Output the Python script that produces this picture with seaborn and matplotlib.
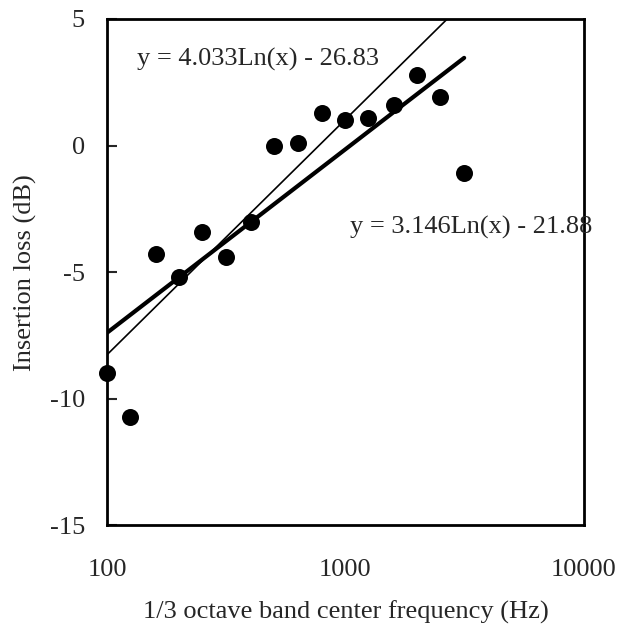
import numpy as np
import pandas as pd
import matplotlib
matplotlib.use("Agg")
import matplotlib.pyplot as plt
from matplotlib.ticker import FixedLocator, FixedFormatter, NullLocator
import seaborn as sns

# ====================
# DATOS
# ====================
frecuencias = [100, 125, 160, 200, 250, 315, 400, 500, 630, 800,
               1000, 1250, 1600, 2000, 2500, 3150]
perdida = [-9.0, -10.7, -4.3, -5.2, -3.4, -4.4, -3.0, 0.0, 0.1, 1.3,
           1.0, 1.1, 1.6, 2.8, 1.9, -1.1]

# ajustes logaritmicos (y = a*Ln(x) + b)
pendientes = [4.033, 3.146]
intercepts = [-26.83, -21.88]
etiquetas = ["y = 4.033Ln(x) - 26.83", "y = 3.146Ln(x) - 21.88"]

xticks = [100, 1000, 10000]
yticks = [-15, -10, -5, 0, 5]

df = pd.DataFrame({"f": frecuencias, "IL": perdida})

# ====================
# ESTILO
# ====================
sns.set_style("white")
plt.rcParams["font.family"] = ["Liberation Serif", "DejaVu Serif"]
FS = 19

fig = plt.figure(figsize=(6.19, 6.30), dpi=100)
ax = fig.add_axes([0.173, 0.166, 0.770, 0.804])

# lineas de tendencia
f_lin = np.geomspace(min(frecuencias), max(frecuencias), 200)
lineas = pd.DataFrame({
    "f": np.concatenate([f_lin, f_lin]),
    "IL": np.concatenate([pendientes[0] * np.log(f_lin) + intercepts[0],
                          pendientes[1] * np.log(f_lin) + intercepts[1]]),
    "fit": ["thin"] * len(f_lin) + ["thick"] * len(f_lin),
})
sns.lineplot(data=lineas, x="f", y="IL", hue="fit", size="fit",
             sizes={"thin": 1.2, "thick": 3.0},
             palette={"thin": "black", "thick": "black"},
             legend=False, ax=ax, zorder=2)

sns.scatterplot(data=df, x="f", y="IL", color="black", s=150,
                edgecolor="black", linewidth=0, ax=ax, zorder=3,
                clip_on=False)

ax.set_xscale("log")
ax.set_xlim(100, 10000)
ax.set_ylim(-15, 5)
ax.xaxis.set_major_locator(FixedLocator(xticks))
ax.xaxis.set_major_formatter(FixedFormatter([str(t) for t in xticks]))
ax.xaxis.set_minor_locator(NullLocator())
ax.set_yticks(yticks)
ax.set_yticklabels([str(t) for t in yticks])

ax.tick_params(axis="x", length=0, pad=24, labelsize=FS)
ax.tick_params(axis="y", direction="in", length=7, width=1.5,
               pad=16, labelsize=FS, left=True)

for s in ax.spines.values():
    s.set_linewidth(2)
    s.set_color("black")

ax.set_xlabel("1/3 octave band center frequency (Hz)", fontsize=FS, labelpad=14)
ax.set_ylabel("Insertion loss (dB)", fontsize=FS, labelpad=9)

ax.text(0.063, 0.919, etiquetas[0], transform=ax.transAxes,
        ha="left", va="center", fontsize=FS)
ax.text(0.509, 0.588, etiquetas[1], transform=ax.transAxes,
        ha="left", va="center", fontsize=FS)

fig.savefig("out.png", dpi=100)
